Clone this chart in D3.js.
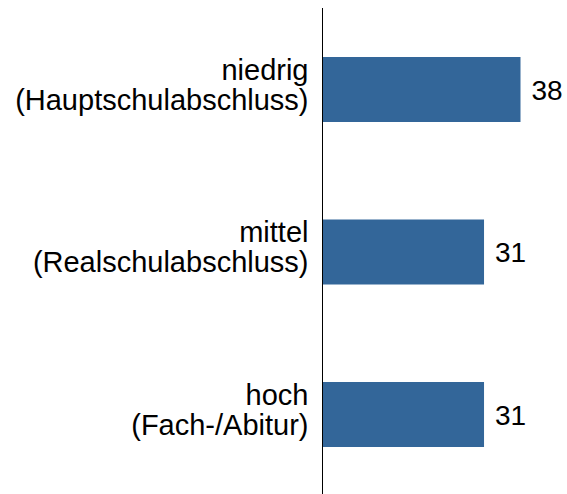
<!DOCTYPE html>
<html>
<head>
<meta charset="utf-8">
<script src="https://cdn.jsdelivr.net/npm/d3@7"></script>
<style>
  body { margin: 0; background: #fff; }
  svg { display: block; font-family: "Liberation Sans", Arial, sans-serif; }
</style>
</head>
<body>
<div id="chart"></div>
<script>
// Data
const categories = ["niedrig", "mittel", "hoch"]
const subLabels = ["(Hauptschulabschluss)", "(Realschulabschluss)", "(Fach-/Abitur)"]
const values = [38, 31, 31]

const width = 567
const height = 494
const axisX = 322.5

const svg = d3.select("#chart")
  .append("svg")
  .attr("width", width)
  .attr("height", height)

const yScale = d3.scaleBand()
  .domain(categories)
  .range([8.25, 495.75])
  .paddingInner(0.6)
  .paddingOuter(0.3)

const xScale = d3.scaleLinear()
  .domain([0, 38])
  .range([axisX, 520.5])

// bars
svg.append("g")
  .selectAll("rect")
  .data(values)
  .join("rect")
  .attr("x", xScale(0))
  .attr("y", (d, i) => yScale(categories[i]))
  .attr("width", d => xScale(d) - xScale(0))
  .attr("height", yScale.bandwidth())
  .attr("fill", "#336699")

// value labels
svg.append("g")
  .selectAll("text")
  .data(values)
  .join("text")
  .attr("x", d => xScale(d) + 11)
  .attr("y", (d, i) => yScale(categories[i]) + yScale.bandwidth() / 2 + 10)
  .attr("font-size", 28)
  .attr("fill", "#000")
  .text(d => d)

// category labels (two lines)
const labels = svg.append("g")
  .selectAll("text")
  .data(categories)
  .join("text")
  .attr("text-anchor", "end")
  .attr("font-size", 29)
  .attr("fill", "#000")

labels.append("tspan")
  .attr("x", 308.5)
  .attr("y", d => yScale(d) + yScale.bandwidth() / 2 - 10)
  .text(d => d)
labels.append("tspan")
  .attr("x", 308.5)
  .attr("y", d => yScale(d) + yScale.bandwidth() / 2 + 20)
  .text((d, i) => subLabels[i])

// axis line
svg.append("line")
  .attr("x1", axisX)
  .attr("x2", axisX)
  .attr("y1", 8)
  .attr("y2", height)
  .attr("stroke", "#000")
  .attr("stroke-width", 1)
</script>
</body>
</html>
